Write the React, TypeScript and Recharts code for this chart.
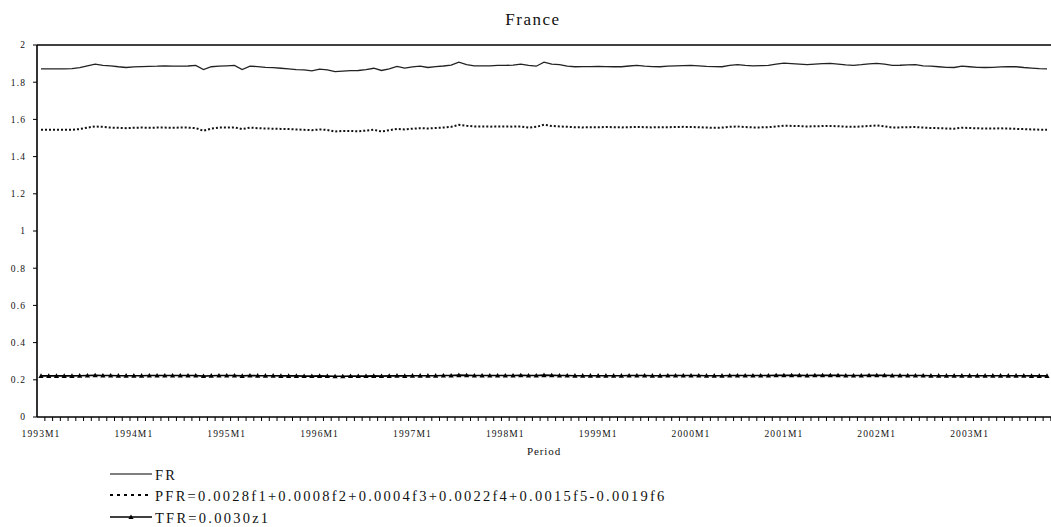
import { LineChart, Line, XAxis, YAxis, ReferenceLine } from 'recharts'

const FONT = '"Liberation Serif", "Times New Roman", serif'

const YEARS = ['1993', '1994', '1995', '1996', '1997', '1998', '1999', '2000', '2001', '2002', '2003']
const Y_TICKS = [0, 0.2, 0.4, 0.6, 0.8, 1, 1.2, 1.4, 1.6, 1.8, 2]

// FR, one row per year (2003 ends at M11)
const FR = [
  1.872, 1.872, 1.872, 1.872, 1.873, 1.878, 1.888, 1.897, 1.890, 1.888, 1.883, 1.879,
  1.882, 1.884, 1.885, 1.886, 1.888, 1.886, 1.886, 1.887, 1.890, 1.868, 1.883, 1.886,
  1.888, 1.890, 1.868, 1.886, 1.884, 1.880, 1.878, 1.875, 1.872, 1.868, 1.866, 1.861,
  1.870, 1.866, 1.857, 1.860, 1.862, 1.863, 1.868, 1.875, 1.863, 1.872, 1.885, 1.876,
  1.882, 1.886, 1.879, 1.884, 1.887, 1.892, 1.908, 1.895, 1.888, 1.888, 1.888, 1.890,
  1.890, 1.892, 1.897, 1.890, 1.886, 1.908, 1.897, 1.895, 1.886, 1.883, 1.884, 1.884,
  1.885, 1.884, 1.883, 1.883, 1.887, 1.890, 1.886, 1.884, 1.883, 1.886, 1.888, 1.889,
  1.890, 1.888, 1.885, 1.884, 1.883, 1.890, 1.894, 1.890, 1.888, 1.889, 1.890, 1.897,
  1.903, 1.900, 1.897, 1.894, 1.897, 1.900, 1.901, 1.897, 1.893, 1.890, 1.894, 1.899,
  1.901, 1.897, 1.890, 1.891, 1.893, 1.894, 1.888, 1.886, 1.883, 1.880, 1.879, 1.886,
  1.883, 1.880, 1.879, 1.880, 1.882, 1.883, 1.883, 1.879, 1.876, 1.873, 1.872,
]

const PFR = [
  1.544, 1.544, 1.544, 1.544, 1.544, 1.548, 1.556, 1.562, 1.560, 1.556, 1.555, 1.553,
  1.555, 1.556, 1.555, 1.556, 1.556, 1.555, 1.556, 1.556, 1.553, 1.539, 1.550, 1.556,
  1.556, 1.557, 1.548, 1.556, 1.553, 1.551, 1.550, 1.549, 1.548, 1.546, 1.544, 1.542,
  1.546, 1.543, 1.535, 1.538, 1.538, 1.536, 1.540, 1.544, 1.535, 1.542, 1.549, 1.546,
  1.550, 1.553, 1.551, 1.554, 1.556, 1.560, 1.571, 1.566, 1.562, 1.562, 1.561, 1.562,
  1.562, 1.561, 1.562, 1.556, 1.560, 1.571, 1.565, 1.562, 1.560, 1.558, 1.557, 1.558,
  1.558, 1.559, 1.558, 1.557, 1.558, 1.560, 1.558, 1.557, 1.558, 1.558, 1.559, 1.560,
  1.559, 1.558, 1.556, 1.555, 1.556, 1.560, 1.562, 1.559, 1.557, 1.557, 1.558, 1.562,
  1.566, 1.565, 1.564, 1.562, 1.563, 1.564, 1.565, 1.563, 1.561, 1.560, 1.562, 1.565,
  1.567, 1.563, 1.556, 1.557, 1.558, 1.559, 1.556, 1.554, 1.553, 1.551, 1.550, 1.555,
  1.554, 1.552, 1.551, 1.551, 1.552, 1.551, 1.549, 1.548, 1.546, 1.545, 1.544,
]

const TFR = [
  0.221, 0.221, 0.221, 0.221, 0.221, 0.222, 0.223, 0.224, 0.223, 0.223, 0.222, 0.222,
  0.222, 0.222, 0.223, 0.223, 0.223, 0.223, 0.223, 0.223, 0.223, 0.220, 0.222, 0.223,
  0.223, 0.223, 0.221, 0.223, 0.222, 0.222, 0.222, 0.221, 0.221, 0.221, 0.220, 0.220,
  0.221, 0.220, 0.219, 0.219, 0.220, 0.220, 0.220, 0.221, 0.220, 0.221, 0.222, 0.221,
  0.222, 0.222, 0.222, 0.222, 0.223, 0.223, 0.225, 0.224, 0.223, 0.223, 0.223, 0.223,
  0.223, 0.223, 0.224, 0.223, 0.223, 0.225, 0.224, 0.223, 0.223, 0.222, 0.222, 0.222,
  0.222, 0.222, 0.222, 0.222, 0.223, 0.223, 0.223, 0.222, 0.222, 0.223, 0.223, 0.223,
  0.223, 0.223, 0.222, 0.222, 0.222, 0.223, 0.223, 0.223, 0.223, 0.223, 0.223, 0.224,
  0.224, 0.224, 0.224, 0.223, 0.224, 0.224, 0.224, 0.224, 0.223, 0.223, 0.223, 0.224,
  0.224, 0.224, 0.223, 0.223, 0.223, 0.223, 0.223, 0.222, 0.222, 0.222, 0.222, 0.222,
  0.222, 0.222, 0.222, 0.222, 0.222, 0.222, 0.222, 0.222, 0.221, 0.221, 0.221,
]

const PERIODS: string[] = []
YEARS.forEach((y) => {
  for (let m = 1; m <= 12; m++) PERIODS.push(`${y}M${m}`)
})

const data = FR.map((v, i) => ({ period: PERIODS[i], FR: v, PFR: PFR[i], TFR: TFR[i] }))

const PAD = 4
const STEP = (1014 - 2 * PAD) / (FR.length - 1)

function PeriodTick(props: any) {
  const { x, y, payload } = props
  const isJan = String(payload.value).split('M')[1] === '1'
  return (
    <g>
      <line x1={x + STEP / 2} y1={y} x2={x + STEP / 2} y2={y + 4} stroke="#000" strokeWidth={1} />
      {isJan && (
        <text x={x} y={y + 20} textAnchor="middle" fontSize={9.5} fontFamily={FONT} letterSpacing={1.1} fill="#111">
          {payload.value}
        </text>
      )}
    </g>
  )
}

function Triangle(props: any) {
  const { cx, cy, index } = props
  if (cx == null || cy == null) return <g key={index} />
  return <path key={index} d={`M${cx - 2.6},${cy + 2} L${cx + 2.6},${cy + 2} L${cx},${cy - 2.6} Z`} fill="#000" />
}

export default function App() {
  return (
    <div style={{ position: 'absolute', left: 0, top: 0, width: 1051, height: 527, background: '#fff', fontFamily: FONT }}>
      <div style={{ position: 'absolute', left: 0, width: 1066, top: 10, textAlign: 'center', fontSize: 17, letterSpacing: 1.5, color: '#111' }}>
        France
      </div>
      <LineChart width={1051} height={460} data={data} margin={{ top: 45, right: 0, bottom: 0, left: 0 }}>
        <XAxis
          dataKey="period"
          interval={0}
          tickLine={false}
          tickSize={0}
          tickMargin={0}
          height={43}
          padding={{ left: PAD, right: PAD }}
          axisLine={{ stroke: '#000', strokeWidth: 1.6 }}
          tick={<PeriodTick />}
          label={{ value: 'Period', position: 'insideBottom', offset: 5, fontSize: 11, fontFamily: FONT, letterSpacing: 0.9, fill: '#111' }}
        />
        <YAxis
          width={37}
          domain={[0, 2]}
          ticks={Y_TICKS}
          interval={0}
          tickSize={4}
          tickMargin={7}
          tickLine={{ stroke: '#000' }}
          axisLine={{ stroke: '#000', strokeWidth: 1.6 }}
          tick={{ fontSize: 9.5, fontFamily: FONT, letterSpacing: 1.1, fill: '#111' }}
        />
        <ReferenceLine y={2} stroke="#000" strokeWidth={1.6} />
        <Line dataKey="FR" stroke="#222" strokeWidth={1.3} dot={false} isAnimationActive={false} />
        <Line dataKey="PFR" stroke="#111" strokeWidth={2} strokeDasharray="2 2" dot={false} isAnimationActive={false} />
        <Line dataKey="TFR" stroke="#000" strokeWidth={1.6} dot={<Triangle />} isAnimationActive={false} />
      </LineChart>
      <svg width={700} height={70} style={{ position: 'absolute', left: 0, top: 460 }}>
        <line x1={110} y1={14} x2={152} y2={14} stroke="#000" strokeWidth={1.2} />
        <text x={155} y={19.5} fontSize={14.5} fontFamily={FONT} letterSpacing={2.25} fill="#111">FR</text>
        <line x1={110} y1={35} x2={152} y2={35} stroke="#000" strokeWidth={2} strokeDasharray="3 4" />
        <text x={155} y={40.5} fontSize={14.5} fontFamily={FONT} letterSpacing={2.25} fill="#111">
          PFR=0.0028f1+0.0008f2+0.0004f3+0.0022f4+0.0015f5-0.0019f6
        </text>
        <line x1={110} y1={57} x2={152} y2={57} stroke="#000" strokeWidth={1.4} />
        <path d="M128.4,59 L133.6,59 L131,54.4 Z" fill="#000" />
        <text x={155} y={62.5} fontSize={14.5} fontFamily={FONT} letterSpacing={2.25} fill="#111">TFR=0.0030z1</text>
      </svg>
    </div>
  )
}
